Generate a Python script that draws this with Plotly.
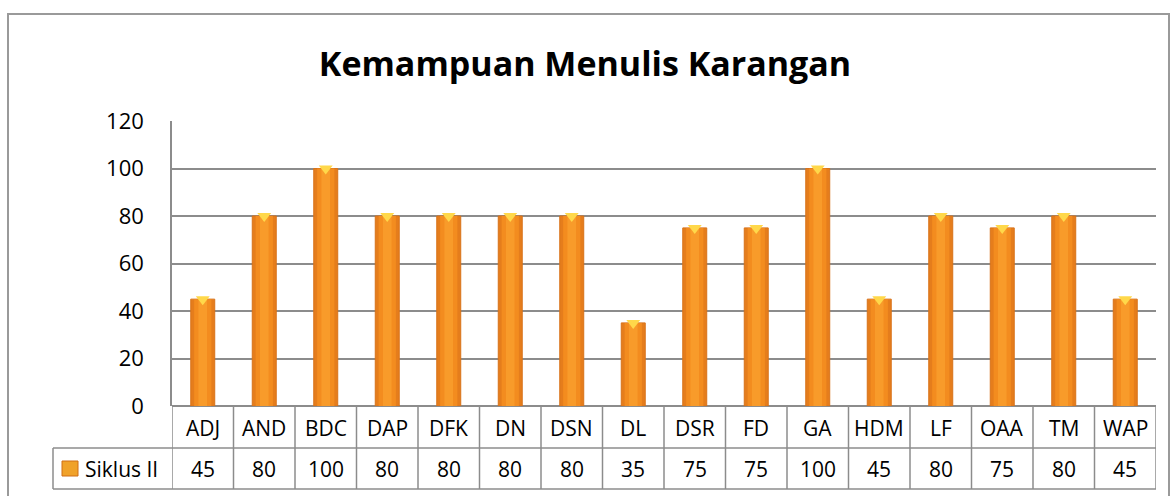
import plotly.graph_objects as go

# data
siswa = ["ADJ", "AND", "BDC", "DAP", "DFK", "DN", "DSN", "DL",
         "DSR", "FD", "GA", "HDM", "LF", "OAA", "TM", "WAP"]
siklus2 = [45, 80, 100, 80, 80, 80, 80, 35, 75, 75, 100, 45, 80, 75, 80, 45]
seri = "Siklus II"
judul = "Kemampuan Menulis Karangan"

FONT = "Open Sans"
GRID = "#8c8c8c"

# plot area in pixels: x 172..1156, y 121..406
L, R, T, B = 172, 15, 121, 90
W, H = 1171 - L - R, 496 - T - B


def px_x(px):
    return (px - L) / W


def px_y(py):
    return (496 - B - py) / H


fig = go.Figure()
# cylinder look: darker body with lighter centre strips
fig.add_trace(go.Bar(
    x=siswa, y=siklus2, name=seri,
    marker=dict(color="#E57D1C", line=dict(color="#D8731A", width=1)),
    width=0.39,
))
fig.add_trace(go.Bar(
    x=siswa, y=siklus2, hoverinfo="skip",
    marker=dict(color="#F38C1F", line=dict(width=0)), width=0.28,
))
fig.add_trace(go.Bar(
    x=siswa, y=siklus2, hoverinfo="skip",
    marker=dict(color="#F89B2A", line=dict(width=0)), width=0.14,
))
# light yellow cylinder tops
fig.add_trace(go.Scatter(
    x=siswa, y=siklus2, mode="markers", hoverinfo="skip",
    marker=dict(symbol="triangle-down", size=12, color="#FFD84A", line=dict(width=0)),
))

shapes = []
# outer chart border
shapes.append(dict(type="rect", xref="paper", yref="paper",
                   x0=px_x(8), x1=px_x(1169), y0=px_y(520), y1=px_y(14),
                   line=dict(color="#9a9a9a", width=2), layer="below"))
# data table lines
row_mid, row_bot = px_y(448), px_y(489)
for yy in (row_mid, row_bot):
    shapes.append(dict(type="line", xref="paper", yref="paper",
                       x0=px_x(53), x1=1, y0=yy, y1=yy, line=dict(color=GRID, width=1.5)))
shapes.append(dict(type="line", xref="paper", yref="paper",
                   x0=px_x(53), x1=px_x(53), y0=row_bot, y1=row_mid, line=dict(color=GRID, width=1.5)))
for i in range(len(siswa) + 1):
    shapes.append(dict(type="line", xref="x", yref="paper",
                       x0=i - 0.5, x1=i - 0.5, y0=row_bot, y1=0,
                       line=dict(color=GRID, width=1.5)))
# legend key
shapes.append(dict(type="rect", xref="paper", yref="paper",
                   x0=px_x(62), x1=px_x(78), y0=px_y(476), y1=px_y(461),
                   fillcolor="#F0A22A", line=dict(color="#D06E14", width=1)))

annotations = []
for s, v in zip(siswa, siklus2):
    annotations.append(dict(x=s, y=px_y(428), xref="x", yref="paper", text=s,
                            yanchor="middle", showarrow=False,
                            font=dict(size=21, color="black", family=FONT)))
    annotations.append(dict(x=s, y=px_y(468.5), xref="x", yref="paper", text=str(v),
                            yanchor="middle", showarrow=False,
                            font=dict(size=21, color="black", family=FONT)))
annotations.append(dict(x=px_x(83), y=px_y(468.5), xref="paper", yref="paper", text=seri,
                        xanchor="left", yanchor="middle", showarrow=False,
                        font=dict(size=21, color="black", family=FONT)))

fig.update_layout(
    width=1171, height=496,
    margin=dict(l=L, r=R, t=T, b=B),
    paper_bgcolor="white", plot_bgcolor="white",
    showlegend=False, barmode="overlay",
    title=dict(text="<b>" + judul + "</b>", x=585 / 1171, xanchor="center",
               y=1 - 64 / 496, yanchor="middle",
               font=dict(size=34, color="black", family=FONT)),
    xaxis=dict(range=[-0.5, len(siswa) - 0.5], showticklabels=False, showgrid=False,
               zeroline=False, showline=False, fixedrange=True),
    yaxis=dict(range=[0, 120], dtick=20, showgrid=True, gridcolor=GRID, gridwidth=1.5,
               showline=True, linecolor=GRID, linewidth=1.5, zeroline=True,
               zerolinecolor=GRID, zerolinewidth=1.5, ticks="", ticklen=0,
               ticklabelstandoff=22,
               tickfont=dict(size=22, color="black", family=FONT)),
    shapes=shapes, annotations=annotations,
)

fig.write_html("out.html", config={"displayModeBar": False},
               post_script="document.body.style.margin='0px';document.body.style.overflow='hidden';")
